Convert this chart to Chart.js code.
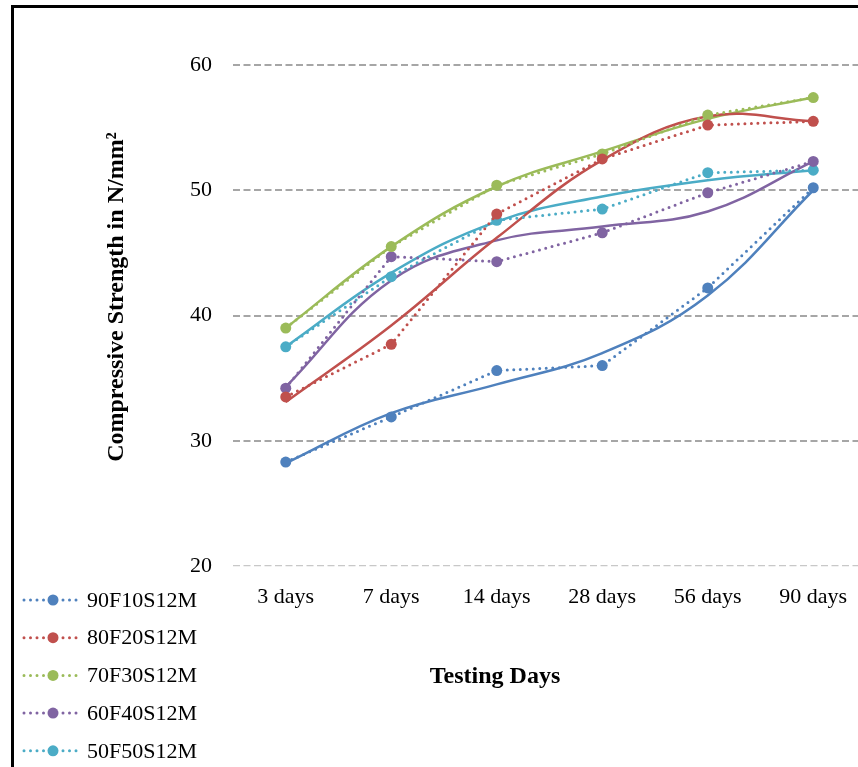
<!DOCTYPE html>
<html>
<head>
<meta charset="utf-8">
<script src="https://cdn.jsdelivr.net/npm/chart.js@4.4.1/dist/chart.umd.min.js"></script>
<style>
  html, body { margin: 0; padding: 0; background: #fff; overflow: hidden; }
  #wrap { position: relative; width: 858px; height: 767px; overflow: hidden; }
  #chart { position: absolute; left: 0; top: 0; }
  #frame { position: absolute; left: 11px; top: 5px; width: 900px; height: 800px;
           border-left: 3px solid #000; border-top: 3px solid #000; pointer-events: none; }
</style>
</head>
<body>
<div id="wrap">
  <canvas id="chart" width="880" height="767"></canvas>
  <div id="frame"></div>
</div>
<script>
const days = ['3 days', '7 days', '14 days', '28 days', '56 days', '90 days'];
const mixes = ['90F10S12M', '80F20S12M', '70F30S12M', '60F40S12M', '50F50S12M'];
const colors = ['#4F81BD', '#C0504D', '#9BBB59', '#8064A2', '#4BACC6'];

// measured strengths (N/mm2)
const mix90F10 = [28.3, 31.9, 35.6, 36.0, 42.2, 50.2];
const mix80F20 = [33.5, 37.7, 48.1, 52.5, 55.2, 55.5];
const mix70F30 = [39.0, 45.5, 50.4, 52.9, 56.0, 57.4];
const mix60F40 = [34.2, 44.7, 44.3, 46.6, 49.8, 52.3];
const mix50F50 = [37.5, 43.1, 47.6, 48.5, 51.4, 51.6];

const trend90F10 = [28.2, 32.2, 34.5, 37.0, 41.6, 50.0];
const trend80F20 = [33.1, 39.2, 46.2, 52.4, 55.9, 55.5];
const trend70F30 = [39.0, 45.5, 50.3, 53.1, 55.7, 57.4];
const trend60F40 = [34.3, 42.8, 46.0, 47.1, 48.3, 52.3];
const trend50F50 = [37.5, 43.4, 47.5, 49.5, 50.8, 51.6];

const yTicks = [20, 30, 40, 50, 60];
const xTitle = 'Testing Days';
const yTitle = 'Compressive Strength in N/mm\u00B2';

const values = [mix90F10, mix80F20, mix70F30, mix60F40, mix50F50];
const trends = [trend90F10, trend80F20, trend70F30, trend60F40, trend50F50];
const serif = '"Liberation Serif", "Times New Roman", serif';

const dataSets = mixes.map((name, i) => ({
  label: name,
  data: values[i],
  borderColor: colors[i],
  backgroundColor: colors[i],
  borderWidth: 3,
  borderDash: [0, 6.5],
  borderCapStyle: 'round',
  pointRadius: 5.5,
  pointBorderWidth: 0,
  pointBackgroundColor: colors[i],
  tension: 0,
  fill: false
}));

const trendSets = mixes.map((name, i) => ({
  label: name + ' trend',
  data: trends[i],
  borderColor: colors[i],
  borderWidth: 2.5,
  pointRadius: 0,
  tension: 0.4,
  fill: false
}));

// axis titles and the legend sit where the original put them
const extras = {
  id: 'extras',
  afterDraw(chart) {
    const { ctx, chartArea } = chart;
    ctx.save();
    ctx.fillStyle = '#000';
    ctx.font = 'bold 24px ' + serif;
    ctx.textAlign = 'center';
    ctx.textBaseline = 'middle';
    ctx.fillText(xTitle, chartArea.left + 262, chartArea.bottom + 111);
    ctx.save();
    ctx.translate(117, chartArea.top + 232);
    ctx.rotate(-Math.PI / 2);
    ctx.fillText(yTitle, 0, 0);
    ctx.restore();

    ctx.font = '22px ' + serif;
    ctx.textAlign = 'left';
    mixes.forEach((name, i) => {
      const y = 600 + i * 37.7;
      ctx.strokeStyle = colors[i];
      ctx.lineWidth = 3;
      ctx.lineCap = 'round';
      ctx.setLineDash([0, 6.5]);
      ctx.beginPath();
      ctx.moveTo(24, y);
      ctx.lineTo(78, y);
      ctx.stroke();
      ctx.setLineDash([]);
      ctx.fillStyle = colors[i];
      ctx.beginPath();
      ctx.arc(53, y, 5.5, 0, Math.PI * 2);
      ctx.fill();
      ctx.fillStyle = '#000';
      ctx.fillText(name, 87, y + 1);
    });
    ctx.restore();
  }
};

new Chart(document.getElementById('chart'), {
  type: 'line',
  data: { labels: days, datasets: dataSets.concat(trendSets) },
  options: {
    responsive: false,
    animation: false,
    layout: { padding: { top: 65, right: 14, left: 0, bottom: 0 } },
    plugins: { legend: { display: false }, tooltip: { enabled: false } },
    scales: {
      x: {
        offset: true,
        grid: { display: false },
        border: { display: false },
        ticks: { color: '#000', padding: 10, font: { family: serif, size: 22 } },
        afterFit: s => { s.height = 201; }
      },
      y: {
        min: 20,
        max: 60,
        afterBuildTicks: s => { s.ticks = yTicks.map(v => ({ value: v })); },
        grid: {
          drawTicks: false,
          color: c => c.tick && c.tick.value === 20 ? '#C8C8C8' : '#A6A6A6',
          lineWidth: c => c.tick && c.tick.value === 20 ? 1.2 : 2
        },
        border: { display: false, dash: [7, 3.5] },
        ticks: { color: '#000', padding: 21, font: { family: serif, size: 22 } },
        afterFit: s => { s.width = 233; }
      }
    }
  },
  plugins: [extras]
});
</script>
</body>
</html>
